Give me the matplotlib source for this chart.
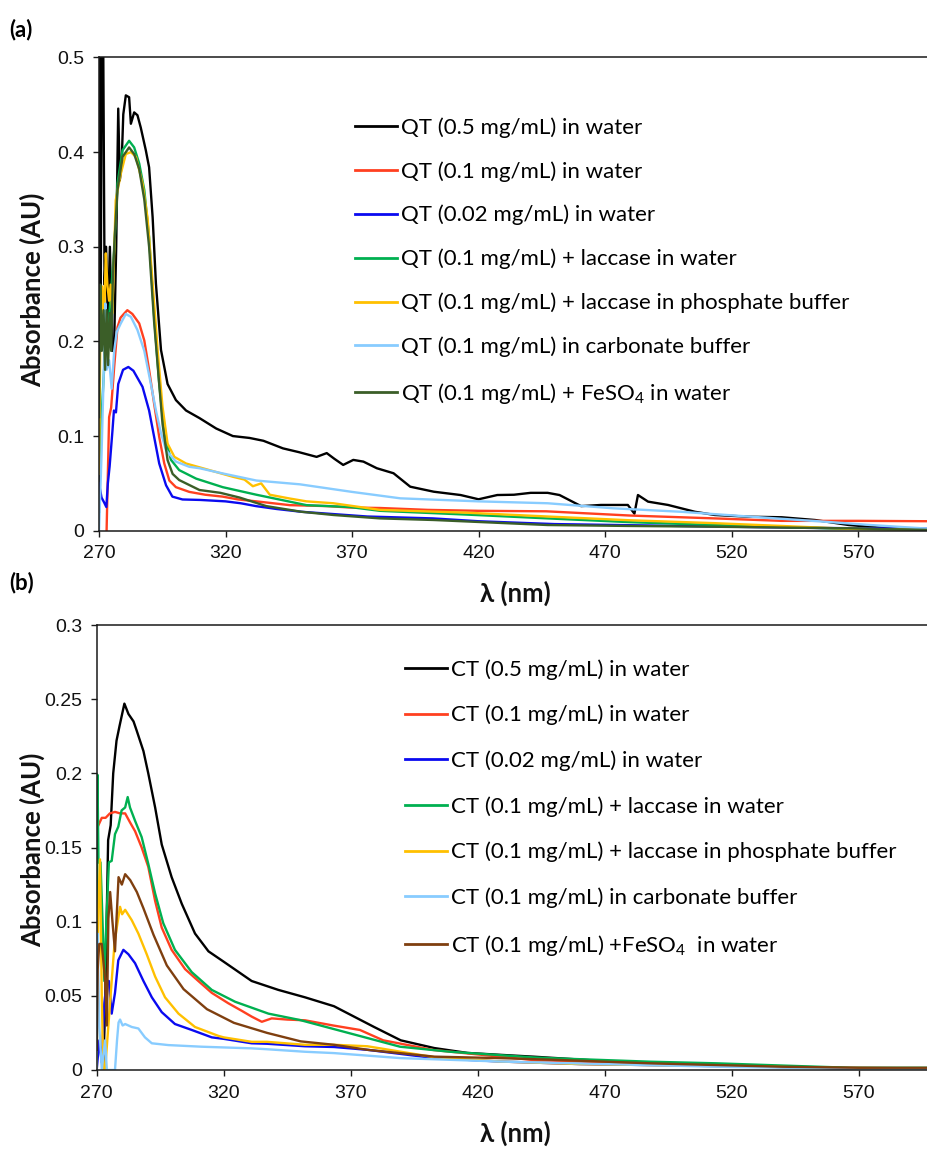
"""UV-vis absorbance spectra of QT (a) and CT (b) under different conditions."""

import matplotlib

matplotlib.use("Agg")

import matplotlib.pyplot as plt

# ---------------------------------------------------------------- panel (a) QT
qt05_water_nm = [270.0, 270.3, 270.7, 271.1, 271.6, 272.2, 272.8, 273.5, 274.3, 275.2, 276.0,
                 276.8, 277.6, 278.2, 278.9, 279.6, 280.6, 281.9, 282.6, 283.9, 285.2, 286.5,
                 288.5, 289.8, 291.2, 292.5, 294.5, 297.1, 300.4, 304.4, 309.7, 316.3, 322.9,
                 329.5, 335.0, 342.7, 349.0, 356.0, 360.0, 363.0, 366.5, 370.5, 374.5, 379.8,
                 386.4, 393.0, 402.3, 412.9, 420.0, 427.4, 434.0, 440.6, 447.3, 452.0, 460.5,
                 468.4, 479.0, 481.6, 483.0, 487.0, 494.9, 505.5, 513.4, 526.6, 539.8, 553.0,
                 566.3, 580.0, 598.6]
qt05_water_abs = [0.02, 0.55, 0.25, 0.55, 0.55, 0.26, 0.30, 0.22, 0.30, 0.19, 0.20,
                  0.30, 0.446, 0.37, 0.385, 0.44, 0.46, 0.458, 0.430, 0.442, 0.439, 0.426,
                  0.402, 0.384, 0.331, 0.261, 0.191, 0.155, 0.138, 0.127, 0.119, 0.108, 0.100,
                  0.098, 0.095, 0.087, 0.083, 0.078, 0.082, 0.076, 0.0695, 0.0748, 0.073, 0.066,
                  0.0607, 0.0465, 0.0412, 0.0377, 0.0332, 0.0377, 0.038, 0.040, 0.040, 0.0377, 0.026,
                  0.0272, 0.0272, 0.018, 0.0377, 0.0307, 0.0272, 0.020, 0.0166, 0.0148, 0.0142, 0.0113,
                  0.006, 0.003, 0.001]

qt01_water_nm = [273.0, 273.5, 274.0, 274.8, 276.0, 277.3, 278.5, 279.8, 281.2, 283.2, 285.9,
                 287.9, 289.8, 291.8, 293.8, 295.8, 297.8, 300.4, 305.7, 312.0, 318.9, 325.0,
                 332.2, 345.4, 360.0, 369.2, 381.0, 400.0, 420.0, 446.7, 480.0, 513.4, 539.8,
                 570.0, 598.6]
qt01_water_abs = [0.0, 0.06, 0.12, 0.13, 0.173, 0.215, 0.225, 0.229, 0.233, 0.229, 0.219,
                  0.201, 0.17, 0.134, 0.099, 0.071, 0.053, 0.046, 0.041, 0.038, 0.036, 0.033,
                  0.031, 0.027, 0.026, 0.0245, 0.024, 0.022, 0.021, 0.0205, 0.016, 0.013, 0.0104,
                  0.0104, 0.0100]

qt002_water_nm = [270.0, 271.0, 272.0, 272.9, 273.5, 274.2, 275.3, 275.9, 276.7, 277.6, 279.5,
                  281.6, 283.6, 287.2, 289.8, 291.8, 293.8, 296.5, 299.0, 303.0, 310.0, 320.0,
                  326.0, 332.0, 340.0, 350.0, 376.0, 402.0, 420.0, 450.0, 500.0, 550.0, 598.6]
qt002_water_abs = [0.05, 0.035, 0.03, 0.025, 0.05, 0.068, 0.105, 0.127, 0.125, 0.155, 0.17,
                   0.173, 0.169, 0.152, 0.127, 0.099, 0.071, 0.048, 0.036, 0.033, 0.0325, 0.031,
                   0.029, 0.026, 0.023, 0.020, 0.015, 0.013, 0.010, 0.007, 0.005, 0.003, 0.002]

qt01_lac_water_nm = [270.0, 271.0, 272.0, 273.0, 274.0, 276.0, 277.3, 279.3, 281.9, 283.9, 285.9,
                     287.9, 289.8, 291.8, 293.8, 295.8, 298.4, 301.7, 308.4, 318.9, 332.2, 352.0,
                     369.2, 381.0, 415.5, 447.3, 480.0, 513.4, 540.0, 566.0, 598.6]
qt01_lac_water_abs = [0.068, 0.12, 0.17, 0.20, 0.226, 0.296, 0.367, 0.402, 0.412, 0.405, 0.388,
                      0.36, 0.31, 0.226, 0.155, 0.103, 0.075, 0.064, 0.055, 0.046, 0.038, 0.027,
                      0.025, 0.021, 0.017, 0.013, 0.009, 0.006, 0.004, 0.002, 0.001]

qt01_lac_phos_nm = [270.0, 270.5, 271.3, 272.0, 272.7, 273.3, 274.0, 274.6, 275.3, 276.6, 278.6,
                    280.6, 282.6, 284.6, 287.2, 289.2, 291.2, 293.2, 295.1, 297.1, 299.8, 304.4,
                    309.7, 316.3, 322.9, 327.5, 330.8, 334.1, 337.5, 345.4, 352.0, 362.6, 381.0,
                    415.5, 447.3, 480.0, 513.0, 540.0, 566.0, 598.6]
qt01_lac_phos_abs = [0.06, 0.20, 0.258, 0.22, 0.293, 0.26, 0.243, 0.26, 0.23, 0.349, 0.377,
                     0.398, 0.400, 0.395, 0.367, 0.33, 0.261, 0.19, 0.131, 0.092, 0.078, 0.071,
                     0.067, 0.062, 0.057, 0.054, 0.047, 0.050, 0.038, 0.034, 0.031, 0.029, 0.022,
                     0.019, 0.015, 0.011, 0.008, 0.005, 0.002, 0.001]

qt01_carb_nm = [270.0, 271.0, 272.0, 272.5, 273.0, 274.0, 275.0, 276.0, 277.0, 278.6, 280.6,
                282.6, 285.2, 287.9, 290.5, 292.5, 294.5, 296.5, 300.4, 305.7, 309.7, 318.9,
                332.2, 349.4, 370.0, 389.1, 420.0, 447.3, 473.0, 500.0, 526.6, 553.0, 575.0,
                598.6]
qt01_carb_abs = [0.0, 0.08, 0.18, 0.24, 0.17, 0.18, 0.15, 0.19, 0.21, 0.219, 0.229,
                 0.226, 0.212, 0.19, 0.155, 0.127, 0.103, 0.085, 0.073, 0.0675, 0.066, 0.0605,
                 0.053, 0.049, 0.041, 0.0342, 0.031, 0.029, 0.0237, 0.020, 0.015, 0.0102, 0.006,
                 0.002]

qt01_fe_nm = [270.0, 270.5, 271.1, 271.8, 272.4, 273.0, 273.6, 274.2, 274.8, 275.4, 276.0,
              277.3, 279.3, 281.9, 283.9, 285.9, 287.9, 289.8, 291.8, 293.8, 295.1, 297.1,
              299.1, 301.7, 309.7, 318.0, 325.6, 336.1, 350.0, 362.6, 381.0, 402.3, 447.3,
              480.0, 513.0, 566.0, 598.6]
qt01_fe_abs = [0.12, 0.26, 0.19, 0.233, 0.17, 0.233, 0.175, 0.23, 0.19, 0.26, 0.30,
               0.36, 0.395, 0.405, 0.398, 0.382, 0.35, 0.30, 0.22, 0.155, 0.113, 0.0746,
               0.060, 0.0535, 0.043, 0.040, 0.035, 0.026, 0.020, 0.0166, 0.013, 0.0113, 0.006,
               0.005, 0.0042, 0.0025, 0.0008]

# ---------------------------------------------------------------- panel (b) CT
ct05_water_nm = [272.5, 273.3, 273.8, 274.5, 275.5, 276.5, 277.8, 279.0, 280.9, 282.5, 284.5,
                 285.7, 288.4, 290.3, 293.0, 295.6, 299.5, 303.5, 308.7, 314.0, 320.0, 331.0,
                 341.5, 352.0, 363.4, 371.3, 379.2, 389.7, 402.9, 416.0, 429.2, 441.9, 470.0,
                 500.0, 540.0, 570.0, 598.0]
ct05_water_abs = [0.0, 0.04, 0.09, 0.155, 0.165, 0.20, 0.222, 0.232, 0.247, 0.240, 0.235,
                  0.229, 0.215, 0.200, 0.177, 0.152, 0.130, 0.112, 0.092, 0.080, 0.073, 0.060,
                  0.054, 0.049, 0.043, 0.036, 0.029, 0.020, 0.0148, 0.0115, 0.0102, 0.009, 0.006,
                  0.004, 0.002, 0.001, 0.0005]

ct01_water_nm = [270.0, 270.4, 272.0, 273.5, 275.2, 277.2, 279.2, 281.2, 283.1, 285.1, 287.7,
                 290.3, 293.0, 295.6, 299.5, 304.8, 310.0, 315.3, 321.8, 327.0, 331.0, 335.0,
                 338.9, 345.0, 352.0, 363.1, 373.6, 382.8, 402.5, 428.7, 441.9, 470.0, 500.0,
                 540.0, 598.0]
ct01_water_abs = [0.160, 0.164, 0.170, 0.170, 0.173, 0.174, 0.173, 0.173, 0.167, 0.161, 0.150,
                  0.137, 0.114, 0.096, 0.081, 0.068, 0.060, 0.052, 0.045, 0.040, 0.036, 0.0325,
                  0.0348, 0.034, 0.0335, 0.030, 0.027, 0.020, 0.0135, 0.009, 0.0067, 0.005, 0.004,
                  0.002, 0.001]

ct002_water_nm = [270.0, 271.0, 272.0, 273.0, 274.0, 274.8, 275.9, 277.2, 278.5, 280.5, 282.5,
                  285.1, 288.4, 291.7, 295.6, 300.8, 307.4, 315.3, 320.0, 331.0, 337.0, 352.0,
                  363.4, 376.6, 403.0, 429.0, 460.0, 500.0, 540.0, 566.6, 598.0]
ct002_water_abs = [0.0, 0.02, 0.005, 0.045, 0.06, 0.06, 0.038, 0.052, 0.074, 0.081, 0.078,
                   0.072, 0.060, 0.049, 0.039, 0.031, 0.027, 0.022, 0.021, 0.018, 0.0177, 0.016,
                   0.0155, 0.0136, 0.008, 0.0057, 0.004, 0.003, 0.002, 0.001, 0.001]

ct01_lac_water_nm = [270.0, 270.3, 270.7, 271.5, 272.3, 273.0, 273.8, 274.8, 275.9, 277.2, 278.5,
                     279.8, 281.2, 282.2, 283.1, 285.1, 287.7, 290.3, 293.0, 296.2, 300.8, 307.4,
                     315.3, 324.5, 337.6, 350.0, 369.7, 389.4, 409.1, 441.9, 448.5, 487.9, 514.2,
                     540.0, 566.7, 598.0]
ct01_lac_water_abs = [0.02, 0.199, 0.14, 0.14, 0.10, 0.06, 0.10, 0.14, 0.141, 0.159, 0.164,
                      0.175, 0.177, 0.184, 0.177, 0.168, 0.157, 0.139, 0.119, 0.099, 0.081, 0.066,
                      0.054, 0.046, 0.038, 0.0337, 0.0247, 0.0157, 0.0123, 0.0085, 0.008, 0.0056, 0.0045,
                      0.003, 0.0015, 0.0015]

ct01_lac_phos_nm = [270.0, 270.6, 271.3, 272.0, 272.6, 273.3, 274.6, 275.9, 277.0, 277.9, 279.2,
                    280.0, 281.2, 283.8, 286.4, 289.7, 293.0, 296.9, 302.2, 308.7, 317.9, 320.0,
                    331.0, 337.0, 352.0, 363.4, 376.6, 403.0, 429.0, 460.0, 500.0, 540.0, 570.0,
                    598.0]
ct01_lac_phos_abs = [0.0, 0.109, 0.142, 0.05, 0.0, 0.0, 0.03, 0.06, 0.085, 0.096, 0.110,
                     0.105, 0.108, 0.101, 0.092, 0.078, 0.063, 0.049, 0.038, 0.029, 0.023, 0.022,
                     0.019, 0.019, 0.017, 0.017, 0.016, 0.0086, 0.0057, 0.004, 0.003, 0.002, 0.001,
                     0.001]

ct01_carb_nm = [270.0, 270.3, 271.0, 272.0, 273.3, 274.0, 275.0, 277.2, 278.0, 278.6, 279.2,
                280.2, 281.2, 282.5, 283.8, 286.4, 289.0, 291.7, 298.2, 311.3, 331.0, 337.0,
                352.0, 363.4, 389.7, 429.0, 470.0, 520.0, 570.0, 598.0]
ct01_carb_abs = [0.0, 0.092, 0.03, 0.0, 0.02, 0.0, 0.0, 0.0, 0.02, 0.032, 0.034,
                 0.030, 0.031, 0.030, 0.029, 0.028, 0.022, 0.018, 0.0168, 0.0157, 0.0146, 0.0140,
                 0.0123, 0.0114, 0.008, 0.0057, 0.004, 0.002, 0.001, 0.001]

ct01_fe_nm = [270.0, 270.4, 271.0, 272.0, 273.3, 274.0, 274.6, 275.3, 276.2, 277.2, 278.6,
              279.9, 281.2, 283.2, 285.8, 288.4, 292.4, 297.6, 304.2, 313.4, 324.0, 337.1,
              350.3, 363.4, 376.6, 403.0, 429.0, 448.0, 487.9, 540.0, 570.0, 597.3]
ct01_fe_abs = [0.0136, 0.068, 0.085, 0.085, 0.061, 0.03, 0.102, 0.12, 0.10, 0.08, 0.13,
               0.125, 0.132, 0.128, 0.12, 0.109, 0.091, 0.0705, 0.0545, 0.041, 0.0318, 0.025,
               0.0193, 0.017, 0.0136, 0.009, 0.008, 0.007, 0.0045, 0.0022, 0.0015, 0.0015]

QT_LABELS = [
    "QT (0.5 mg/mL) in water",
    "QT (0.1 mg/mL) in water",
    "QT (0.02 mg/mL) in water",
    "QT (0.1 mg/mL) + laccase in water",
    "QT (0.1 mg/mL) + laccase in phosphate buffer",
    "QT (0.1 mg/mL) in carbonate buffer",
    "QT (0.1 mg/mL) + FeSO$_4$ in water",
]
CT_LABELS = [
    "CT (0.5 mg/mL) in water",
    "CT (0.1 mg/mL) in water",
    "CT (0.02 mg/mL) in water",
    "CT (0.1 mg/mL) + laccase in water",
    "CT (0.1 mg/mL) + laccase in phosphate buffer",
    "CT (0.1 mg/mL) in carbonate buffer",
    "CT (0.1 mg/mL) +FeSO$_4$  in water",
]
QT_COLORS = ["#000000", "#FF4020", "#0A0AF0", "#00B050", "#FFC000", "#88CCFF", "#3B5E28"]
CT_COLORS = ["#000000", "#FF4020", "#0A0AF0", "#00B050", "#FFC000", "#88CCFF", "#7F3F0F"]

X_TICKS = [270, 320, 370, 420, 470, 520, 570]
QT_Y_TICKS = [0, 0.1, 0.2, 0.3, 0.4, 0.5]
QT_Y_LABELS = ["0", "0.1", "0.2", "0.3", "0.4", "0.5"]
CT_Y_TICKS = [0, 0.05, 0.1, 0.15, 0.2, 0.25, 0.3]
CT_Y_LABELS = ["0", "0.05", "0.1", "0.15", "0.2", "0.25", "0.3"]

TEXT_FONT = ["Lato", "DejaVu Sans"]
TICK_FONT = ["Liberation Sans", "DejaVu Sans"]

plt.rcParams["mathtext.fontset"] = "custom"
plt.rcParams["mathtext.rm"] = "Lato"
plt.rcParams["mathtext.it"] = "Lato:italic"


def style_axes(ax, ymax, yticks, ylabels):
    ax.set_xlim(270, 600)
    ax.set_ylim(0, ymax)
    ax.set_xticks(X_TICKS)
    ax.set_xticklabels([str(t) for t in X_TICKS], family=TICK_FONT, fontsize=14)
    ax.set_yticks(yticks)
    ax.set_yticklabels(ylabels, family=TICK_FONT, fontsize=14)
    ax.spines["right"].set_visible(False)
    for side in ("left", "bottom", "top"):
        ax.spines[side].set_linewidth(1.1)
        ax.spines[side].set_color("#1a1a1a")
    ax.tick_params(direction="out", length=4.5, width=1, pad=6, colors="#1a1a1a")
    ax.tick_params(labelcolor="#111111")


def draw_panel(ax, series, labels, colors, legend_anchor, spacing):
    for (nm, ab), label, color in zip(series, labels, colors):
        ax.plot(nm, ab, color=color, lw=1.7, label=label)
    leg = ax.legend(
        loc="upper left",
        bbox_to_anchor=legend_anchor,
        bbox_transform=ax.figure.transFigure,
        frameon=False,
        prop={"family": TEXT_FONT, "size": 16},
        handlelength=1.9,
        handletextpad=0.18,
        labelspacing=spacing,
        borderpad=0,
        borderaxespad=0,
    )
    for line in leg.get_lines():
        line.set_linewidth(2.0)


def main() -> None:
    fig = plt.figure(figsize=(9.28, 11.49), dpi=100)
    W, H = 928.0, 1149.0

    ax1 = fig.add_axes([99 / W, 1 - 530.7 / H, (934.0 - 99) / W, (530.7 - 57.5) / H])
    ax2 = fig.add_axes([96.7 / W, 1 - 1070 / H, (935.0 - 96.7) / W, (1070 - 625) / H])

    qt_series = [
        (qt05_water_nm, qt05_water_abs),
        (qt01_water_nm, qt01_water_abs),
        (qt002_water_nm, qt002_water_abs),
        (qt01_lac_water_nm, qt01_lac_water_abs),
        (qt01_lac_phos_nm, qt01_lac_phos_abs),
        (qt01_carb_nm, qt01_carb_abs),
        (qt01_fe_nm, qt01_fe_abs),
    ]
    ct_series = [
        (ct05_water_nm, ct05_water_abs),
        (ct01_water_nm, ct01_water_abs),
        (ct002_water_nm, ct002_water_abs),
        (ct01_lac_water_nm, ct01_lac_water_abs),
        (ct01_lac_phos_nm, ct01_lac_phos_abs),
        (ct01_carb_nm, ct01_carb_abs),
        (ct01_fe_nm, ct01_fe_abs),
    ]

    draw_panel(ax1, qt_series, QT_LABELS, QT_COLORS, (355 / W, 1 - 117 / H), 1.05)
    draw_panel(ax2, ct_series, CT_LABELS, CT_COLORS, (405 / W, 1 - 659 / H), 1.13)

    style_axes(ax1, 0.5, QT_Y_TICKS, QT_Y_LABELS)
    style_axes(ax2, 0.3, CT_Y_TICKS, CT_Y_LABELS)

    label_kw = dict(family=TEXT_FONT, fontsize=18.5, fontweight="bold", color="#111111")
    for ax in (ax1, ax2):
        ax.set_ylabel("Absorbance (AU)", **label_kw)
        ax.set_xlabel("λ (nm)", **label_kw)
        ax.yaxis.label.set_va("center")
        ax.xaxis.label.set_va("center")
    ax1.yaxis.set_label_coords((32 - 99) / 835.0, 0.509)
    ax2.yaxis.set_label_coords((32 - 96.7) / 838.3, 0.494)
    ax1.xaxis.set_label_coords((515 - 99) / 835.0, -0.132)
    ax2.xaxis.set_label_coords((515 - 96.7) / 838.3, -0.1416)

    panel_kw = dict(family=TEXT_FONT, fontsize=16, fontweight="bold", va="center", ha="left")
    fig.text(9 / W, 1 - 30 / H, "(a)", **panel_kw)
    fig.text(9 / W, 1 - 583 / H, "(b)", **panel_kw)

    fig.savefig("out.png", dpi=100)
    plt.close(fig)


if __name__ == "__main__":
    main()
